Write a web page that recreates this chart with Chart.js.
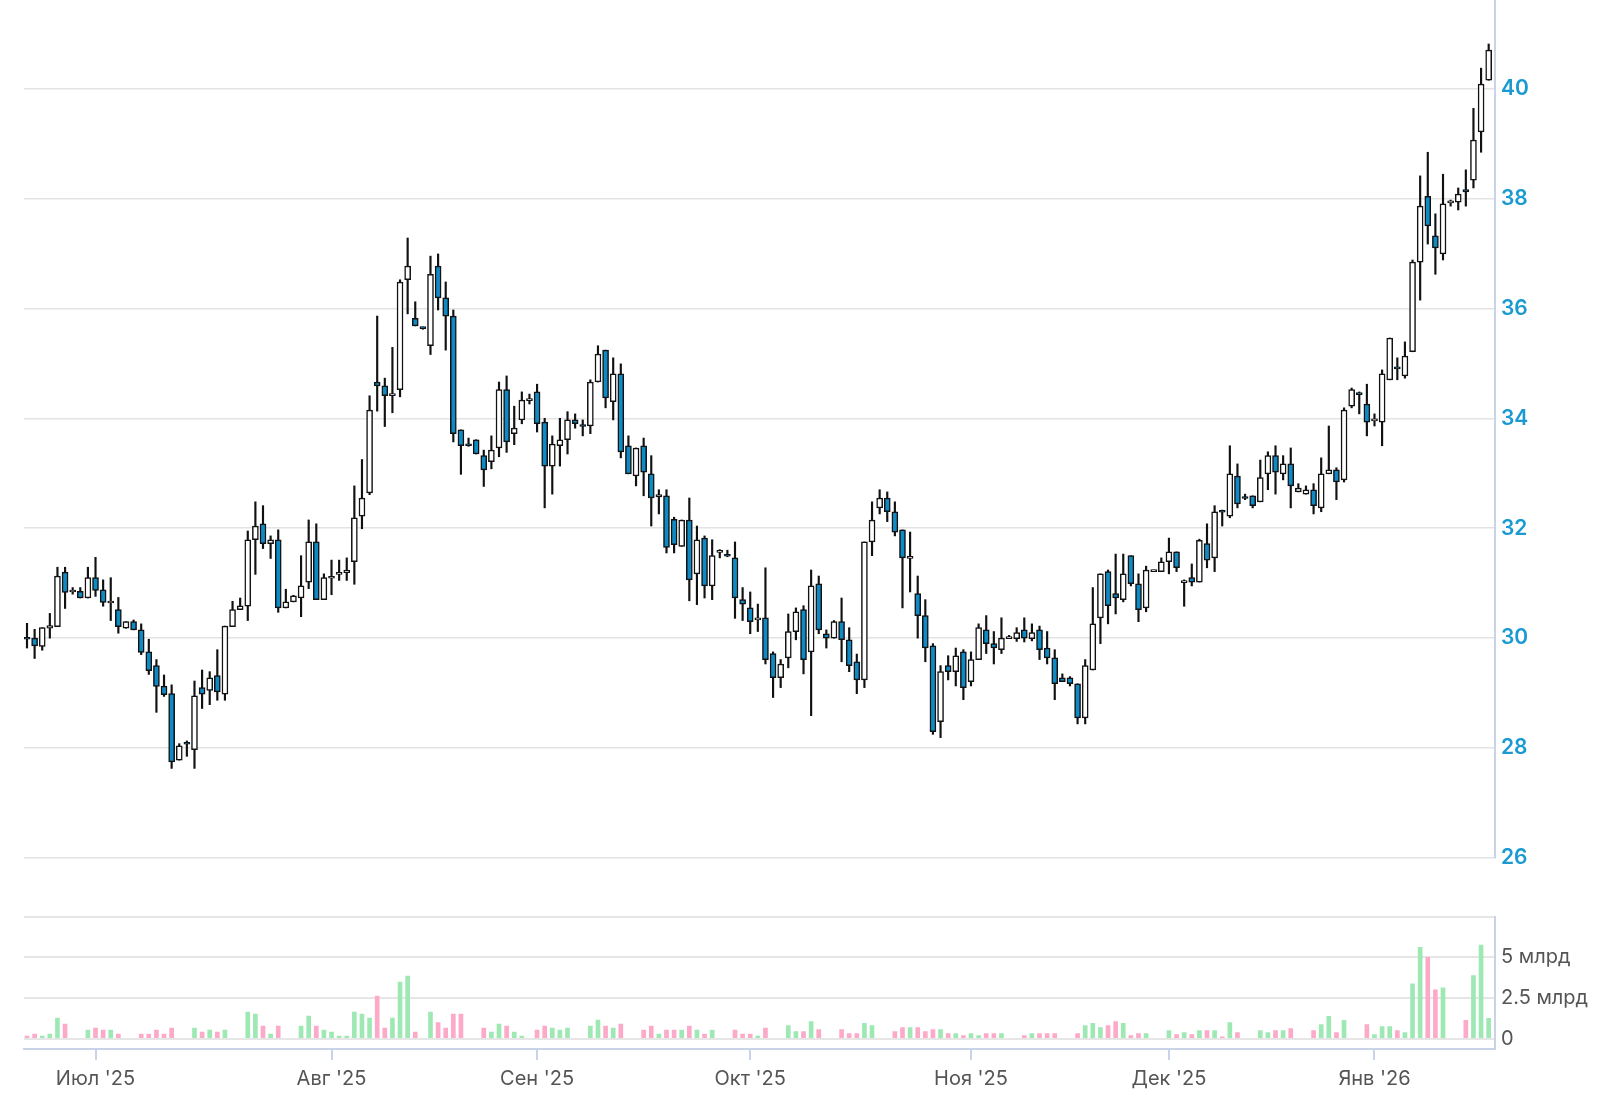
<!DOCTYPE html>
<html>
<head>
<meta charset="utf-8">
<script src="https://cdn.jsdelivr.net/npm/chart.js@4.4.1/dist/chart.umd.min.js"></script>
<style>
  html, body { margin: 0; padding: 0; background: #fff; }
  body { width: 1615px; height: 1095px; position: relative; overflow: hidden; }
  #price { position: absolute; left: 0; top: -20px; }
  #volume { position: absolute; left: 0; top: 880px; }
</style>
</head>
<body>
<canvas id="price" width="1615" height="900"></canvas>
<canvas id="volume" width="1615" height="215"></canvas>
<script>
// одна свеча на торговую сессию, индекс 0 = крайняя левая
var opens = [
  30.0, 30.0, 29.85, 30.18, 30.21, 31.2, 30.84, 30.85, 30.73, 31.1,
  30.88, 30.64, 30.52, 30.18, 30.3, 30.15, 29.75, 29.5, 29.13, 28.99,
  27.78, 28.08, 27.97, 29.1, 29.05, 29.32, 28.98, 30.21, 30.52, 30.58,
  31.79, 32.08, 31.72, 31.79, 30.55, 30.66, 30.73, 31.02, 31.75, 30.7,
  31.09, 31.16, 31.19, 31.39, 32.22, 32.64, 34.66, 34.59, 34.41, 34.52,
  36.52, 35.82, 35.65, 35.32, 36.77, 36.19, 35.86, 33.79, 33.52, 33.61,
  33.32, 33.21, 33.46, 34.52, 33.72, 33.97, 34.32, 34.48, 33.93, 33.13,
  33.5, 33.61, 33.97, 33.87, 33.86, 34.66, 35.24, 34.3, 34.81, 33.5,
  32.95, 33.5, 32.99, 32.57, 32.59, 32.16, 31.67, 32.15, 31.17, 31.82,
  30.95, 31.56, 31.51, 31.46, 30.7, 30.55, 30.33, 30.37, 29.72, 29.28,
  29.64, 30.12, 30.52, 29.75, 30.99, 30.08, 30.0, 30.3, 29.97, 29.57,
  29.24, 31.75, 32.37, 32.55, 32.3, 31.97, 31.45, 30.81, 30.41, 29.86,
  28.48, 29.5, 29.39, 29.75, 29.21, 29.61, 30.15, 29.9, 29.79, 29.99,
  29.99, 30.15, 29.99, 30.15, 29.82, 29.64, 29.28, 29.28, 29.17, 28.55,
  29.42, 30.37, 31.21, 30.81, 30.7, 31.5, 30.99, 30.55, 31.21, 31.21,
  31.39, 31.57, 31.01, 31.1, 31.02, 31.72, 31.46, 32.31, 32.22, 32.95,
  32.56, 32.59, 32.48, 32.99, 33.32, 32.99, 33.17, 32.66, 32.62, 32.7,
  32.37, 32.99, 33.06, 32.88, 34.22, 34.45, 34.26, 33.95, 33.93, 34.7,
  34.92, 34.77, 35.21, 36.84, 38.04, 37.32, 36.99, 37.92, 37.93, 38.16,
  38.33, 39.21, 40.15
];
var highs = [
  30.27, 30.16, 30.19, 30.45, 31.29, 31.29, 30.92, 30.92, 31.29, 31.47,
  31.06, 31.1, 30.74, 30.3, 30.33, 30.26, 29.98, 29.61, 29.33, 29.15,
  28.08, 28.13, 29.22, 29.42, 29.39, 29.79, 30.22, 30.67, 30.73, 31.95,
  32.48, 32.41, 31.86, 31.97, 30.89, 30.78, 31.5, 32.15, 32.08, 31.17,
  31.42, 31.42, 31.46, 32.77, 33.25, 34.41, 35.86, 34.73, 35.29, 36.52,
  37.28, 36.12, 35.66, 36.95, 36.99, 36.48, 35.97, 33.79, 33.64, 33.61,
  33.42, 33.68, 34.66, 34.77, 34.22, 34.48, 34.44, 34.62, 34.0, 33.68,
  34.0, 34.12, 34.08, 33.97, 34.7, 35.32, 35.24, 35.1, 34.99, 33.68,
  33.46, 33.64, 33.32, 32.7, 32.7, 32.2, 32.15, 32.55, 32.04, 31.86,
  31.79, 31.61, 31.6, 31.75, 30.92, 30.84, 30.62, 31.28, 29.75, 29.61,
  30.44, 30.55, 30.59, 31.24, 31.13, 30.15, 30.32, 30.73, 30.19, 29.71,
  31.75, 32.48, 32.7, 32.66, 32.48, 31.97, 31.93, 31.13, 30.7, 29.9,
  29.5, 29.68, 29.82, 29.79, 29.75, 30.26, 30.41, 30.12, 30.37, 30.05,
  30.19, 30.37, 30.26, 30.22, 30.12, 29.79, 29.35, 29.3, 29.17, 29.61,
  30.92, 31.17, 31.24, 31.53, 31.53, 31.5, 31.17, 31.31, 31.24, 31.46,
  31.82, 31.57, 31.06, 31.35, 31.8, 32.08, 32.41, 32.33, 33.5, 33.17,
  32.62, 32.59, 33.24, 33.39, 33.5, 33.32, 33.46, 32.81, 32.77, 32.81,
  33.28, 33.86, 33.1, 34.19, 34.55, 34.48, 34.62, 34.08, 34.88, 35.46,
  35.1, 35.39, 36.88, 38.41, 38.84, 37.72, 38.44, 37.97, 38.19, 38.52,
  39.64, 40.37, 40.81
];
var lows = [
  29.82, 29.63, 29.78, 30.0, 30.21, 30.54, 30.8, 30.73, 30.73, 30.76,
  30.58, 30.32, 30.09, 30.18, 30.15, 29.7, 29.34, 28.65, 28.94, 27.63,
  27.78, 27.85, 27.63, 28.72, 28.79, 28.87, 28.87, 30.21, 30.52, 30.32,
  31.16, 31.63, 31.45, 30.47, 30.55, 30.66, 30.39, 30.9, 30.7, 30.7,
  30.79, 31.05, 31.05, 30.98, 31.99, 32.61, 34.13, 33.85, 34.1, 34.39,
  35.9, 35.68, 35.62, 35.16, 35.97, 35.24, 33.57, 32.98, 33.49, 33.35,
  32.76, 33.08, 33.3, 33.38, 33.52, 33.9, 34.26, 33.75, 32.37, 32.62,
  33.13, 33.35, 33.82, 33.68, 33.72, 34.66, 34.19, 33.97, 33.28, 32.99,
  32.77, 32.59, 32.04, 32.26, 31.55, 31.55, 31.67, 30.68, 30.61, 30.73,
  30.7, 31.46, 31.48, 30.36, 30.32, 30.08, 30.12, 29.53, 28.92, 29.1,
  29.46, 29.97, 29.35, 28.59, 30.08, 29.82, 30.0, 29.57, 29.39, 28.99,
  29.1, 31.5, 32.26, 32.12, 31.86, 30.55, 30.84, 30.0, 29.57, 28.25,
  28.19, 29.24, 29.13, 28.88, 29.13, 29.61, 29.72, 29.53, 29.72, 29.99,
  29.94, 29.93, 29.95, 29.61, 29.53, 28.88, 29.21, 29.13, 28.44, 28.44,
  29.42, 29.9, 30.26, 30.44, 30.66, 30.95, 30.3, 30.48, 31.21, 31.21,
  31.17, 31.21, 30.58, 30.95, 31.02, 31.28, 31.21, 32.04, 32.19, 32.37,
  32.52, 32.37, 32.48, 32.7, 32.62, 32.88, 32.37, 32.66, 32.62, 32.26,
  32.3, 32.99, 32.52, 32.84, 34.19, 34.08, 33.68, 33.86, 33.5, 34.7,
  34.7, 34.73, 35.21, 36.15, 37.17, 36.62, 36.88, 37.86, 37.79, 37.86,
  38.19, 38.84, 40.15
];
var closes = [
  29.98, 29.86, 30.19, 30.23, 31.13, 30.83, 30.85, 30.73, 31.1, 30.87,
  30.65, 30.66, 30.21, 30.3, 30.15, 29.74, 29.41, 29.12, 28.97, 27.75,
  28.04, 28.07, 28.95, 28.98, 29.28, 29.02, 30.22, 30.52, 30.59, 31.79,
  32.04, 31.72, 31.79, 30.55, 30.66, 30.77, 30.95, 31.75, 30.7, 31.1,
  31.11, 31.18, 31.24, 32.19, 32.55, 34.15, 34.59, 34.41, 34.45, 36.48,
  36.77, 35.68, 35.63, 36.62, 36.19, 35.86, 33.72, 33.5, 33.5, 33.35,
  33.06, 33.42, 34.52, 33.57, 33.82, 34.33, 34.34, 33.9, 33.13, 33.53,
  33.61, 33.97, 33.9, 33.85, 34.66, 35.17, 34.37, 34.81, 33.39, 32.99,
  33.46, 33.02, 32.55, 32.61, 31.65, 31.7, 32.15, 31.06, 31.79, 30.95,
  31.5, 31.58, 31.49, 30.73, 30.62, 30.3, 30.37, 29.61, 29.28, 29.53,
  30.12, 30.48, 29.61, 30.95, 30.15, 30.0, 30.3, 29.97, 29.5, 29.24,
  31.75, 32.15, 32.55, 32.3, 31.93, 31.46, 31.49, 30.41, 29.82, 28.3,
  29.39, 29.39, 29.68, 29.1, 29.61, 30.19, 29.9, 29.82, 30.0, 30.01,
  30.1, 30.0, 30.1, 29.79, 29.64, 29.17, 29.21, 29.17, 28.55, 29.5,
  30.26, 31.17, 30.59, 30.73, 31.17, 30.99, 30.52, 31.24, 31.23, 31.39,
  31.57, 31.28, 31.03, 31.02, 31.78, 31.42, 32.3, 32.29, 32.99, 32.44,
  32.54, 32.41, 32.92, 33.32, 33.02, 33.17, 32.77, 32.73, 32.7, 32.41,
  32.99, 33.06, 32.84, 34.15, 34.52, 34.43, 33.93, 33.99, 34.81, 35.46,
  34.9, 35.13, 36.84, 37.86, 37.5, 37.1, 37.9, 37.94, 38.08, 38.12,
  39.06, 40.08, 40.7
];
// объём, млрд (0 = нет столбика)
var volumes = [
  0.16, 0.29, 0.16, 0.29, 1.27, 0.9, 0, 0, 0.53, 0.66,
  0.53, 0.53, 0.29, 0, 0, 0.29, 0.29, 0.53, 0.29, 0.66,
  0, 0, 0.66, 0.41, 0.53, 0.41, 0.53, 0, 0, 1.64,
  1.52, 0.78, 0.29, 0.78, 0, 0, 0.78, 1.39, 0.78, 0.53,
  0.41, 0.16, 0.16, 1.64, 1.52, 1.27, 2.62, 0.66, 1.27, 3.48,
  3.85, 0.41, 0, 1.64, 1.0, 0.66, 1.52, 1.52, 0, 0,
  0.66, 0.41, 0.9, 0.78, 0.41, 0.16, 0, 0.53, 0.78, 0.66,
  0.53, 0.66, 0, 0, 0.78, 1.15, 0.78, 0.66, 0.9, 0,
  0, 0.53, 0.78, 0.29, 0.53, 0.53, 0.53, 0.78, 0.53, 0.29,
  0.53, 0, 0, 0.53, 0.29, 0.29, 0.16, 0.66, 0, 0,
  0.81, 0.44, 0.44, 1.06, 0.56, 0, 0, 0.56, 0.31, 0.31,
  0.94, 0.81, 0, 0, 0.44, 0.69, 0.69, 0.69, 0.44, 0.56,
  0.56, 0.31, 0.31, 0.19, 0.31, 0.19, 0.31, 0.31, 0.31, 0,
  0, 0.19, 0.31, 0.31, 0.31, 0.31, 0, 0, 0.31, 0.81,
  0.94, 0.69, 0.81, 1.06, 0.94, 0.19, 0.31, 0.31, 0, 0,
  0.5, 0.25, 0.375, 0.25, 0.5, 0.5, 0.5, 0.125, 1.0, 0.375,
  0, 0, 0.5, 0.375, 0.5, 0.5, 0.625, 0, 0, 0.5,
  0.875, 1.375, 0.375, 1.125, 0, 0, 0.875, 0.25, 0.75, 0.75,
  0.5, 0.375, 3.375, 5.625, 5.0, 3.0, 3.125, 0, 0, 1.125,
  3.875, 5.75, 1.25
];
var monthTicks = [9, 40, 67, 95, 124, 150, 177];
var monthLabels = ["Июл '25", "Авг '25", "Сен '25", "Окт '25", "Ноя '25", "Дек '25", "Янв '26"];
var priceTicks = [26, 28, 30, 32, 34, 36, 38, 40];
var volumeTicks = [0, 2.5, 5, 7.5];
var volumeLabels = ['0', '2.5 млрд', '5 млрд', ''];

var X_MIN = -0.394, X_MAX = 192.83;
var BLUE = '#0e8ac4';
var AXIS = '#c9d3e8';
var FONT = 'Inter, "Open Sans", sans-serif';

function isUp(i) { return closes[i] >= opens[i]; }

new Chart(document.getElementById('price'), {
  type: 'bar',
  data: {
    datasets: [
      {
        // тело свечи
        data: opens.map(function (o, i) { return { x: i, y: [o, closes[i]] }; }),
        backgroundColor: function (c) { return isUp(c.dataIndex) ? '#ffffff' : BLUE; },
        borderColor: '#111',
        borderWidth: 1.5,
        borderSkipped: false,
        minBarLength: 2,
        barThickness: 6,
        grouped: false,
        order: 1
      },
      {
        // тень
        data: lows.map(function (l, i) { return { x: i, y: [l, highs[i]] }; }),
        backgroundColor: '#111',
        borderWidth: 0,
        barThickness: 1.5,
        grouped: false,
        order: 2
      }
    ]
  },
  options: {
    responsive: false,
    animation: false,
    layout: { padding: { left: 24, right: 0, top: 20, bottom: 22 } },
    plugins: { legend: { display: false }, tooltip: { enabled: false } },
    scales: {
      x: { type: 'linear', min: X_MIN, max: X_MAX, offset: false, grid: { offset: false }, display: false },
      y: {
        position: 'right',
        min: 26,
        max: 41.61,
        afterBuildTicks: function (s) { s.ticks = priceTicks.map(function (v) { return { value: v }; }); },
        afterFit: function (s) { s.width = 120; },
        grid: { color: '#e3e3e3', lineWidth: 1.5, drawTicks: false },
        border: { color: AXIS, width: 2 },
        ticks: { color: '#1b9ad1', padding: 6, font: { family: FONT, size: 21, weight: '600' } }
      }
    }
  }
});

new Chart(document.getElementById('volume'), {
  type: 'bar',
  data: {
    datasets: [{
      data: volumes.map(function (v, i) { return { x: i, y: v }; }).filter(function (p) { return p.y > 0; }),
      backgroundColor: function (c) { return c.raw && isUp(c.raw.x) ? '#9ee9b3' : '#fcaac8'; },
      barThickness: 4,
      borderWidth: 0
    }]
  },
  options: {
    responsive: false,
    animation: false,
    layout: { padding: { left: 24, right: 0, top: 36.7, bottom: 0 } },
    plugins: { legend: { display: false }, tooltip: { enabled: false } },
    scales: {
      x: {
        type: 'linear',
        min: X_MIN,
        max: X_MAX,
        offset: false,
        afterBuildTicks: function (s) { s.ticks = monthTicks.map(function (v) { return { value: v }; }); },
        afterFit: function (s) { s.height = 46; },
        grid: { offset: false, drawOnChartArea: false, drawTicks: true, tickLength: 11, color: AXIS, lineWidth: 2 },
        border: { color: AXIS, width: 2 },
        ticks: {
          autoSkip: false,
          maxRotation: 0,
          padding: 7,
          color: '#555',
          font: { family: FONT, size: 20 },
          callback: function (v, i) { return monthLabels[i]; }
        }
      },
      y: {
        position: 'right',
        min: -0.63,
        max: 7.5,
        afterBuildTicks: function (s) { s.ticks = volumeTicks.map(function (v) { return { value: v }; }); },
        afterFit: function (s) { s.width = 120; },
        grid: { color: '#e6e6e6', lineWidth: 2, drawTicks: false },
        border: { color: AXIS, width: 2 },
        ticks: {
          color: '#555',
          padding: 6,
          font: { family: FONT, size: 20 },
          callback: function (v, i) { return volumeLabels[i]; }
        }
      }
    }
  }
});
</script>
</body>
</html>
